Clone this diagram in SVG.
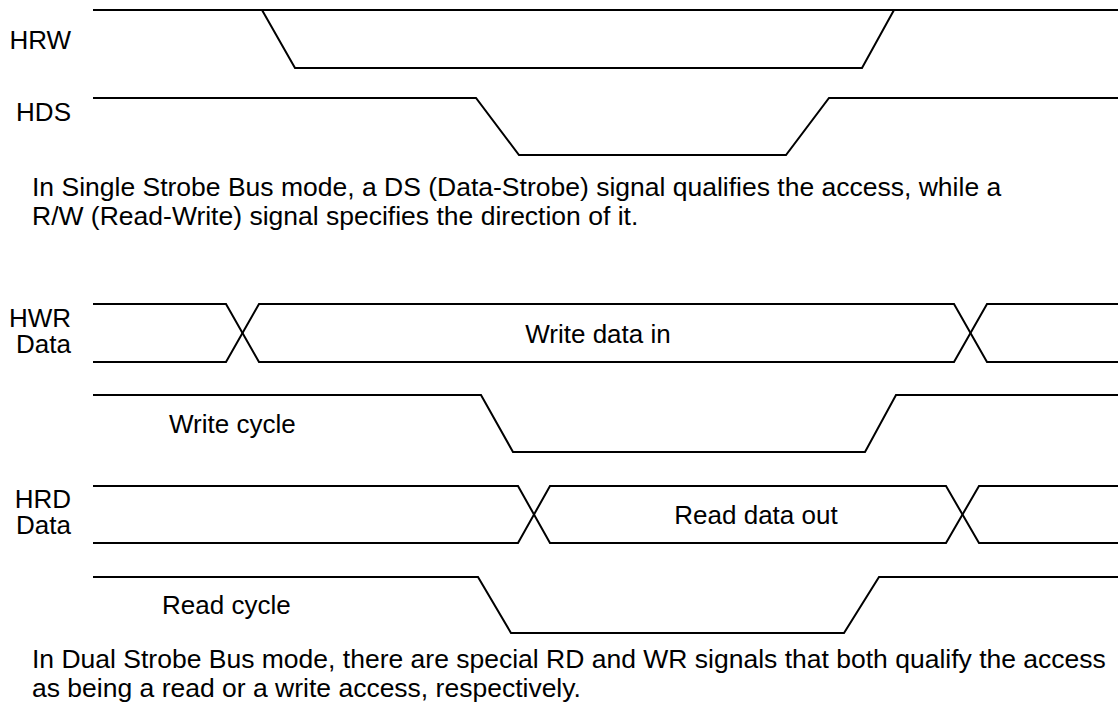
<svg xmlns="http://www.w3.org/2000/svg" width="1118" height="712" viewBox="0 0 1118 712">
<style>
.w{fill:none;stroke:#000;stroke-width:2;stroke-linejoin:miter}
text{font-family:"Liberation Sans",Arial,sans-serif;font-size:26px;fill:#000}
.c{font-size:26.5px}
.e{text-anchor:end}
.m{text-anchor:middle}
</style>
<rect width="1118" height="712" fill="#fff"/>
<g id="hrw">
<text class="e" x="71" y="49">HRW</text>
</g>
<g id="hds">
<text class="e" x="71" y="121">HDS</text>
</g>
<g id="caption1">
<text class="c" x="32" y="196">In Single Strobe Bus mode, a DS (Data-Strobe) signal qualifies the access, while a</text>
<text class="c" x="32" y="225">R/W (Read-Write) signal specifies the direction of it.</text>
</g>
<g id="hwr-data">
<text class="e" x="71" y="327">HWR</text>
<text class="e" x="71" y="353">Data</text>
<text class="m" x="598" y="343">Write data in</text>
</g>
<g id="write-cycle">
<text x="169" y="433">Write cycle</text>
</g>
<g id="hrd-data">
<text class="e" x="71" y="508">HRD</text>
<text class="e" x="71" y="534">Data</text>
<text class="m" x="756" y="524">Read data out</text>
</g>
<g id="read-cycle">
<text x="162" y="614">Read cycle</text>
</g>
<g id="caption2">
<text class="c" x="32" y="668">In Dual Strobe Bus mode, there are special RD and WR signals that both qualify the access</text>
<text class="c" x="32" y="697">as being a read or a write access, respectively.</text>
</g>
<g id="waveforms">
<path class="w" d="M93,10 H1118 M262,10 L295,68 H862 L894,10"/>
<path class="w" d="M93,98 H476 L519,155 H786 L829,98 H1118"/>
<path class="w" d="M93,304 H226 L259,362 H954 L987,304 H1118"/>
<path class="w" d="M93,362 H226 L259,304 H954 L987,362 H1118"/>
<path class="w" d="M93,395 H481 L513,452 H865 L896,395 H1118"/>
<path class="w" d="M93,486 H518 L550,543 H946 L979,486 H1118"/>
<path class="w" d="M93,543 H518 L550,486 H946 L979,543 H1118"/>
<path class="w" d="M93,577 H478 L511,633 H844 L879,577 H1118"/>
</g>
</svg>
